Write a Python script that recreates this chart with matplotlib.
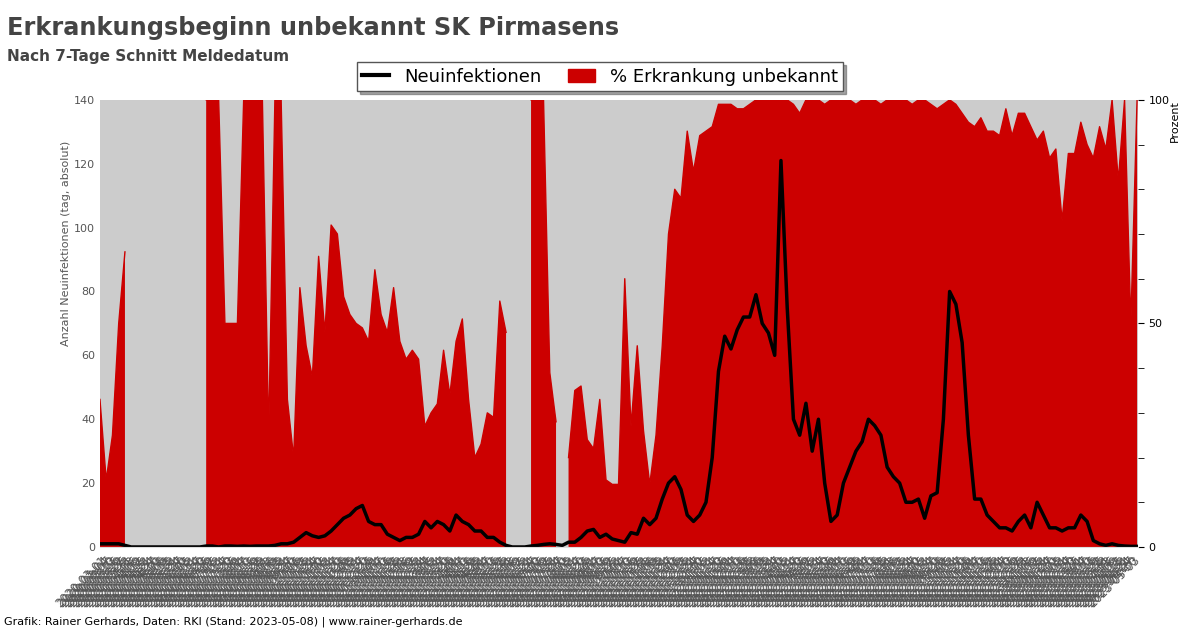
import pandas as pd
import numpy as np
import matplotlib
matplotlib.use("Agg")
import matplotlib.pyplot as plt
from matplotlib.lines import Line2D
from matplotlib.patches import Patch

nan = np.nan

# weekly readings from the chart, starting 2020-03-01
start = "2020-03-01"

# 7-Tage Schnitt Neuinfektionen (left axis)
neuinf = [1, 1, 1, 1, 0.5, 0, 0, 0, 0, 0,
          0, 0, 0, 0, 0, 0, 0, 0.3, 0.3, 0,
          0.3, 0.3, 0.2, 0.3, 0.2, 0.3, 0.3, 0.3, 0.5, 1,
          1, 1.5, 3, 4.5, 3.5, 3, 3.5, 5, 7, 9,
          10, 12, 13, 8, 7, 7, 4, 3, 2, 3,
          3, 4, 8, 6, 8, 7, 5, 10, 8, 7,
          5, 5, 3, 3, 1.5, 0.5, 0, 0, 0, 0.3,
          0.5, 0.8, 1, 0.8, 0.5, 1.5, 1.5, 3, 5, 5.5,
          3, 4, 2.5, 2, 1.5, 4.5, 4, 9, 7, 9,
          15, 20, 22, 18, 10, 8, 10, 14, 28, 55,
          66, 62, 68, 72, 72, 79, 70, 67, 60, 121,
          75, 40, 35, 45, 30, 40, 20, 8, 10, 20,
          25, 30, 33, 40, 38, 35, 25, 22, 20, 14,
          14, 15, 9, 16, 17, 40, 80, 76, 64, 35,
          15, 15, 10, 8, 6, 6, 5, 8, 10, 6,
          14, 10, 6, 6, 5, 6, 6, 10, 8, 2,
          1, 0.5, 1, 0.5, 0.3, 0.2, 0.2]

# % Erkrankungsbeginn unbekannt (right axis), nan = keine Faelle
prozent = [33, 15, 25, 50, 66, nan, nan, nan, nan, nan,
           nan, nan, nan, nan, nan, nan, nan, 100, 100, 100,
           50, 50, 50, 100, 100, 100, 100, 25, 100, 100,
           33, 20, 58, 45, 38, 65, 48, 72, 70, 56,
           52, 50, 49, 46, 62, 52, 48, 58, 46, 42,
           44, 42, 27, 30, 32, 44, 34, 46, 51, 33,
           20, 23, 30, 29, 55, 48, nan, nan, nan, 100,
           100, 100, 39, 28, nan, 20, 35, 36, 24, 22,
           33, 15, 14, 14, 60, 27, 45, 26, 14, 25,
           45, 70, 80, 78, 93, 84, 92, 93, 94, 99,
           99, 99, 98, 98, 99, 100, 100, 100, 100, 100,
           100, 99, 97, 100, 100, 100, 99, 100, 100, 100,
           100, 99, 100, 100, 100, 99, 100, 100, 100, 100,
           99, 100, 100, 99, 98, 99, 100, 99, 97, 95,
           94, 96, 93, 93, 92, 98, 92, 97, 97, 94,
           91, 93, 87, 89, 73, 88, 88, 95, 90, 87,
           94, 89, 100, 82, 100, 50, 100]

dates = pd.date_range(start, periods=len(neuinf), freq="7D")
tick_dates = pd.date_range(start, "2023-05-04", freq="3D")
tick_labels = [d.strftime("%Y-%m-%d") for d in tick_dates]

red = "#cc0000"
grey_txt = "#555555"

fig = plt.figure(figsize=(12, 6.28), dpi=100)
ax = fig.add_axes([0.0833, 0.129, 0.865, 0.712])
ax2 = ax.twinx()

# ax (line, left scale) on top, ax2 (red area, right scale) below with grey background
ax.set_zorder(2)
ax.patch.set_visible(False)
ax2.set_zorder(1)
ax2.patch.set_visible(True)
ax2.patch.set_facecolor("#cccccc")

pz = np.array(prozent, dtype=float)
ax2.fill_between(dates, 0, pz, where=~np.isnan(pz), color=red, lw=0)
ax2.plot(dates, pz, color=red, lw=1)
ax2.set_ylim(0, 100)
ax2.set_yticks([0, 50, 100])
ax2.set_yticks(np.arange(0, 101, 10), minor=True)
ax2.tick_params(axis="y", labelsize=8, colors="black", length=4)
ax2.tick_params(axis="y", which="minor", length=4)
ax2.set_ylabel("Prozent", fontsize=8, rotation=90, va="top")
ax2.yaxis.set_label_coords(1.031, 1.0)
ax2.yaxis.label.set_horizontalalignment("right")

ax.plot(dates, neuinf, color="black", lw=2.5)
ax.set_ylim(0, 140)
ax.set_yticks(range(0, 141, 20))
ax.tick_params(axis="y", labelsize=8, colors=grey_txt, length=0)
ax.set_ylabel("Anzahl Neuinfektionen (tag, absolut)", fontsize=8, color=grey_txt)
ax.yaxis.set_label_coords(-0.028, 0.68)

ax.set_xlim(pd.Timestamp(start), pd.Timestamp("2023-05-08"))
ax.set_xticks(tick_dates)
ax.set_xticklabels(tick_labels, rotation=45, ha="right", rotation_mode="anchor",
                   fontsize=8.3, color=grey_txt)
ax.tick_params(axis="x", length=0, pad=5)

for a in (ax, ax2):
    for s in a.spines.values():
        s.set_visible(False)
ax.spines["bottom"].set_visible(True)
ax.spines["bottom"].set_color("#dddddd")

handles = [Line2D([0], [0], color="black", lw=3),
           Patch(facecolor=red, edgecolor=red)]
leg = fig.legend(handles, ["Neuinfektionen", "% Erkrankung unbekannt"],
                 loc="center", bbox_to_anchor=(0.5, 0.878), ncol=2,
                 fontsize=13, frameon=True, fancybox=False, shadow=True,
                 borderpad=0.3, handlelength=1.5, columnspacing=1.5)
leg.get_frame().set_edgecolor("#555555")

fig.text(0.006, 0.975, "Erkrankungsbeginn unbekannt SK Pirmasens",
         fontsize=17.3, fontweight="bold", color="#444444", va="top")
fig.text(0.006, 0.922, "Nach 7-Tage Schnitt Meldedatum",
         fontsize=11, fontweight="bold", color="#444444", va="top")
fig.text(0.003, 0.005, "Grafik: Rainer Gerhards, Daten: RKI (Stand: 2023-05-08) | www.rainer-gerhards.de",
         fontsize=8, color="black")

fig.savefig("out.png", dpi=100)
